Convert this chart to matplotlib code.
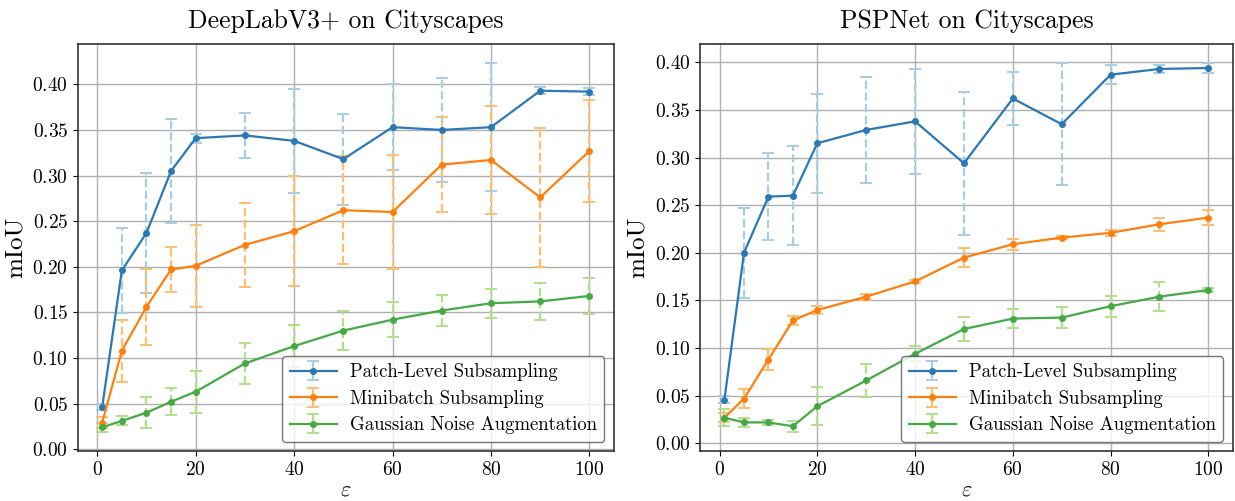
import numpy as np
import matplotlib
matplotlib.use("Agg")
from matplotlib import pyplot as plt

# epsilon values used in every experiment
eps = [1, 5, 10, 15, 20, 30, 40, 50, 60, 70, 80, 90, 100]

# DeepLabV3+ on Cityscapes: mean and spread of mIoU
dl_patch = [0.046, 0.196, 0.237, 0.305, 0.341, 0.344, 0.338, 0.318, 0.353, 0.350, 0.353, 0.393, 0.392]
dl_patch_err = [0.003, 0.047, 0.066, 0.057, 0.005, 0.025, 0.057, 0.050, 0.047, 0.057, 0.070, 0.004, 0.004]
dl_mini = [0.029, 0.108, 0.156, 0.197, 0.201, 0.224, 0.239, 0.262, 0.260, 0.312, 0.317, 0.276, 0.327]
dl_mini_err = [0.006, 0.034, 0.042, 0.025, 0.045, 0.046, 0.060, 0.059, 0.063, 0.052, 0.059, 0.076, 0.056]
dl_gauss = [0.024, 0.031, 0.040, 0.052, 0.063, 0.094, 0.113, 0.130, 0.142, 0.152, 0.160, 0.162, 0.168]
dl_gauss_err = [0.005, 0.005, 0.017, 0.015, 0.023, 0.022, 0.023, 0.021, 0.019, 0.017, 0.016, 0.020, 0.020]

# PSPNet on Cityscapes
psp_patch = [0.046, 0.200, 0.259, 0.260, 0.315, 0.329, 0.338, 0.294, 0.362, 0.335, 0.387, 0.393, 0.394]
psp_patch_err = [0.004, 0.047, 0.046, 0.052, 0.052, 0.056, 0.055, 0.075, 0.028, 0.064, 0.010, 0.004, 0.005]
psp_mini = [0.027, 0.047, 0.088, 0.129, 0.140, 0.154, 0.170, 0.195, 0.209, 0.216, 0.221, 0.230, 0.237]
psp_mini_err = [0.005, 0.010, 0.011, 0.005, 0.004, 0.003, 0.002, 0.010, 0.006, 0.002, 0.003, 0.007, 0.0075]
psp_gauss = [0.027, 0.022, 0.022, 0.018, 0.039, 0.066, 0.094, 0.120, 0.131, 0.132, 0.144, 0.154, 0.161]
psp_gauss_err = [0.009, 0.005, 0.003, 0.006, 0.020, 0.017, 0.008, 0.013, 0.010, 0.011, 0.011, 0.015, 0.002]

labels = ["Patch-Level Subsampling", "Minibatch Subsampling", "Gaussian Noise Augmentation"]
colors = ["#2a78b6", "#ff7f0e", "#45aa45"]
light = ["#a6cee3", "#fdbf6f", "#b2df8a"]

plt.rcParams["font.family"] = ["cmr10", "DejaVu Serif"]
plt.rcParams["mathtext.fontset"] = "cm"
plt.rcParams["axes.formatter.use_mathtext"] = True
plt.rcParams["axes.edgecolor"] = "#333333"
plt.rcParams["axes.linewidth"] = 1.2

fig = plt.figure(figsize=(12.35, 5.01), dpi=100)
ax1 = fig.add_axes([0.063, 0.0998, 0.434, 0.812])
ax2 = fig.add_axes([0.567, 0.0998, 0.431, 0.812])


def panel(ax, title, series, errs, ylim):
    for y, e, lab, c, lc in zip(series, errs, labels, colors, light):
        eb = ax.errorbar(eps, y, yerr=e, fmt="-o", color=c, ecolor=lc,
                         markersize=4, lw=1.6, elinewidth=1.6, capsize=4,
                         capthick=1.4, label=lab)
        eb[2][0].set_linestyle("--")
    ax.set_title(title, fontsize=18.5, pad=12)
    ax.set_xlabel(r"$\varepsilon$", fontsize=16, labelpad=1)
    ax.set_ylabel("mIoU", fontsize=18)
    ax.set_ylim(*ylim)
    ax.set_xticks([0, 20, 40, 60, 80, 100])
    ax.tick_params(labelsize=14)
    ax.grid(True, color="#b0b0b0", lw=1.0)
    ax.set_axisbelow(True)
    leg = ax.legend(loc="lower right", fontsize=13.5, framealpha=0.8,
                    edgecolor="#555555", fancybox=True, labelspacing=0.45,
                    handlelength=2.5, handletextpad=0.7)
    leg.get_frame().set_linewidth(1.0)


panel(ax1, "DeepLabV3+ on Cityscapes", [dl_patch, dl_mini, dl_gauss],
      [dl_patch_err, dl_mini_err, dl_gauss_err], (-0.002, 0.444))
panel(ax2, "PSPNet on Cityscapes", [psp_patch, psp_mini, psp_gauss],
      [psp_patch_err, psp_mini_err, psp_gauss_err], (-0.008, 0.419))

fig.savefig("out.png", dpi=100)
